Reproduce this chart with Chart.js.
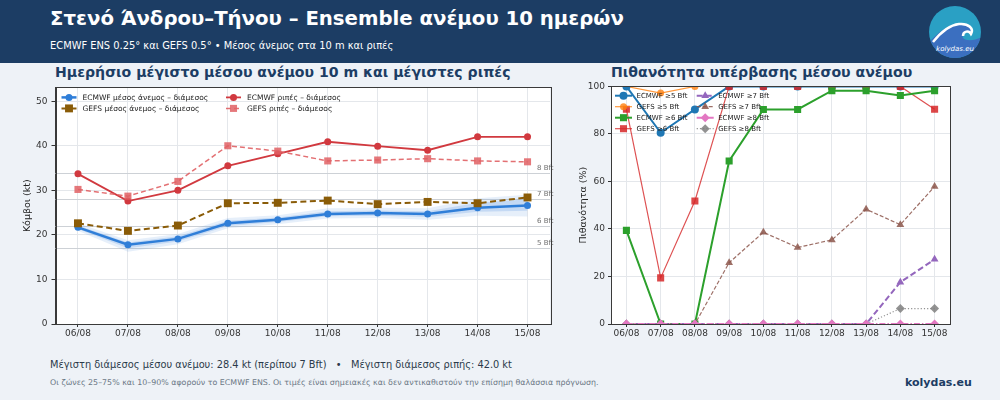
<!DOCTYPE html>
<html><head><meta charset="utf-8">
<script src="https://cdn.jsdelivr.net/npm/chart.js@4.4.1/dist/chart.umd.min.js"></script>
<style>
html,body{margin:0;padding:0;}
body{width:1000px;height:400px;background:#eef2f7;position:relative;overflow:hidden;font-family:"DejaVu Sans",sans-serif;}
#hdr{position:absolute;left:0;top:0;width:1000px;height:63px;background:#1c3d64;}
#t1{position:absolute;left:50px;top:7px;color:#fff;font-weight:bold;font-size:19.7px;white-space:nowrap;}
#t2{position:absolute;left:50px;top:40px;color:#fff;font-size:9.9px;white-space:nowrap;}
#logo{position:absolute;left:927px;top:4px;}
.sec{position:absolute;top:64px;color:#1c3d64;font-weight:bold;font-size:14.1px;white-space:nowrap;}
#c1w{position:absolute;left:0;top:78px;width:575px;height:270px;}
#c2w{position:absolute;left:560px;top:78px;width:415px;height:270px;}
#f1{position:absolute;left:50px;top:359px;font-size:9.8px;color:#2b3a4a;white-space:nowrap;}
#f2{position:absolute;left:50px;top:378px;font-size:7.9px;color:#6b7785;white-space:nowrap;}
#f3{position:absolute;left:905px;top:376px;font-size:11px;font-weight:bold;color:#1c3d64;}
</style></head>
<body>
<div id="hdr"></div>
<div id="t1">Στενό Άνδρου–Τήνου – Ensemble ανέμου 10 ημερών</div>
<div id="t2">ECMWF ENS 0.25° και GEFS 0.5° • Μέσος άνεμος στα 10 m και ριπές</div>
<svg id="logo" width="56" height="56" viewBox="0 0 56 56">
  <defs><clipPath id="cc"><circle cx="28" cy="28" r="26"/></clipPath></defs>
  <circle cx="28" cy="28" r="26" fill="#2aa0c4"/>
  <g clip-path="url(#cc)">
    <path d="M0 40 C10 30 18 22 30 20 C40 18 46 24 44 30 C40 26 34 28 36 34 C40 38 50 36 56 32 L56 56 L0 56Z" fill="#3b6fc0"/>
    <path d="M6 38 C14 28 22 21 32 20 C42 19 47 25 44 30 C42 26 36 27 36 32" fill="none" stroke="#fff" stroke-width="2.5"/>
  </g>
  <text x="28" y="47" fill="#fff" font-size="7" font-style="italic" text-anchor="middle" font-family="DejaVu Sans">kolydas.eu</text>
</svg>
<div class="sec" style="left:55px;">Ημερήσιο μέγιστο μέσου ανέμου 10 m και μέγιστες ριπές</div>
<div class="sec" style="left:611px;">Πιθανότητα υπέρβασης μέσου ανέμου</div>
<div id="c1w"><canvas id="c1"></canvas></div>
<div id="c2w"><canvas id="c2"></canvas></div>
<div id="f1">Μέγιστη διάμεσος μέσου ανέμου: 28.4 kt (περίπου 7 Bft) &nbsp;&nbsp;•&nbsp;&nbsp; Μέγιστη διάμεσος ριπής: 42.0 kt</div>
<div id="f2">Οι ζώνες 25–75% και 10–90% αφορούν το ECMWF ENS. Οι τιμές είναι σημειακές και δεν αντικαθιστούν την επίσημη θαλάσσια πρόγνωση.</div>
<div id="f3">kolydas.eu</div>
<script>
// ---------- DATA ----------
const dates = ['06/08','07/08','08/08','09/08','10/08','11/08','12/08','13/08','14/08','15/08'];
const ecMean = [21.7,17.8,19.1,22.6,23.4,24.7,24.9,24.7,26.1,26.6];
const gfMean = [22.6,20.9,22.1,27.1,27.2,27.7,26.9,27.4,27.1,28.4];
const ecGust = [33.7,27.6,30.0,35.5,38.2,40.9,39.9,39.0,42.0,42.0];
const gfGust = [30.2,28.7,32.0,40.0,38.8,36.6,36.8,37.1,36.6,36.4];
const ecP10 = [20.9,16.2,17.9,21.5,22.4,23.7,23.8,23.4,24.3,24.1];
const ecP25 = [21.3,17.0,18.5,22.0,22.9,24.2,24.3,24.0,25.2,25.4];
const ecP75 = [22.1,18.3,19.7,23.2,23.9,25.3,25.5,25.3,27.2,28.0];
const ecP90 = [22.6,18.8,20.2,23.8,24.4,26.0,26.1,26.0,28.2,29.0];
const bftKnots = [17,22,28,34];
const bftLabels = ['5 Bft','6 Bft','7 Bft','8 Bft'];
const probTicks = [0,20,40,60,80,100];
const ec5 = [100,80.5,90.3,100,100,100,100,100,100,100];
const gf5 = [100,97.2,100,100,100,100,100,100,100,100];
const ec6 = [39.4,0,0,68.6,90.3,90.3,98.2,98.2,96.2,98.2];
const gf6 = [90.4,19.4,51.8,100,100,100,100,100,100,90.4];
const ec7 = [0,0,0,0,0,0,0,0,17.6,27.2];
const gf7 = [0,0,0,25.8,38.6,32.2,35.4,48.3,41.8,57.9];
const ec8 = [0,0,0,0,0,0,0,0,0,0];
const gf8 = [0,0,0,0,0,0,0,0,6.5,6.5];

// ---------- helpers ----------
const FONT = '"DejaVu Sans", sans-serif';
const pts = arr => arr.map((v,i)=>({x:i,y:v}));

function drawMarker(ctx, style, x, y, r, fill, stroke, bw){
  ctx.save(); ctx.beginPath();
  if(style==='circle'){ ctx.arc(x,y,r,0,Math.PI*2); }
  else if(style==='rect'){ const s=r*Math.SQRT1_2; ctx.rect(x-s,y-s,2*s,2*s); }
  else if(style==='triangle'){ ctx.moveTo(x,y-r); ctx.lineTo(x+0.866*r,y+0.5*r); ctx.lineTo(x-0.866*r,y+0.5*r); ctx.closePath(); }
  else if(style==='rectRot'){ ctx.moveTo(x,y-r); ctx.lineTo(x+r,y); ctx.lineTo(x,y+r); ctx.lineTo(x-r,y); ctx.closePath(); }
  ctx.fillStyle=fill; ctx.fill();
  if(bw){ ctx.lineWidth=bw; ctx.strokeStyle=stroke; ctx.stroke(); }
  ctx.restore();
}

const framePlugin = {
  id:'frame',
  beforeDraw(chart){
    const a=chart.chartArea, ctx=chart.ctx;
    ctx.save(); ctx.fillStyle='#ffffff'; ctx.fillRect(a.left,a.top,a.right-a.left,a.bottom-a.top); ctx.restore();
  },
  afterDraw(chart){
    const a=chart.chartArea, ctx=chart.ctx;
    ctx.save(); ctx.strokeStyle='#3a3a3a'; ctx.lineWidth=1;
    ctx.strokeRect(Math.round(a.left)+0.5,Math.round(a.top)+0.5,Math.round(a.right-a.left),Math.round(a.bottom-a.top));
    ctx.restore();
    const L = chart.options.plugins.inlegend;
    if(!L) return;
    const items = chart.data.datasets.filter(d=>d.inLegend);
    ctx.save();
    ctx.font = L.fontSize+'px '+FONT; ctx.textBaseline='middle'; ctx.textAlign='left';
    items.forEach((d,i)=>{
      const col = Math.floor(i/L.rows), row = i%L.rows;
      const x0 = a.left + L.x + col*L.colW, y = a.top + L.y + row*L.rowH;
      ctx.save();
      ctx.strokeStyle=d.borderColor; ctx.lineWidth=d.borderWidth; ctx.setLineDash(d.borderDash||[]);
      ctx.beginPath(); ctx.moveTo(x0,y); ctx.lineTo(x0+L.lineW,y); ctx.stroke();
      ctx.restore();
      drawMarker(ctx, d.pointStyle, x0+L.lineW/2, y, d.pointRadius, d.pointBackgroundColor, d.pointBorderColor, d.pointBorderWidth);
      ctx.fillStyle='#222';
      ctx.fillText(d.label, x0+L.lineW+L.gap, y+0.5);
    });
    ctx.restore();
  }
};

const bftPlugin = {
  id:'bft',
  beforeDatasetsDraw(chart){
    const a=chart.chartArea, ctx=chart.ctx, ys=chart.scales.y;
    ctx.save();
    bftKnots.forEach((k,i)=>{
      const py = Math.round(ys.getPixelForValue(k))+0.5;
      ctx.strokeStyle='#cdd1d6'; ctx.lineWidth=1;
      ctx.beginPath(); ctx.moveTo(a.left,py); ctx.lineTo(a.right,py); ctx.stroke();
      ctx.fillStyle='#707070'; ctx.font='7px '+FONT; ctx.textAlign='left'; ctx.textBaseline='bottom';
      ctx.fillText(bftLabels[i], a.right-13, py-1.5);
    });
    ctx.restore();
  }
};

function xScale(){
  return {
    type:'linear', min:-0.45, max:9.45,
    afterFit(s){ s.height=24; },
    ticks:{ stepSize:1, includeBounds:false, autoSkip:false, maxRotation:0, padding:1, color:'#333', font:{family:FONT,size:9},
      callback:v=>dates[v] },
    grid:{ color:'#e4e7eb', tickColor:'#333', tickLength:3, drawTicks:true },
    border:{ display:true, color:'#3a3a3a' }
  };
}

Chart.defaults.font.family = FONT;
Chart.defaults.animation = false;

function line(label, data, color, width, dash, style, r, fill, order, extra){
  return Object.assign({
    label, data:pts(data), borderColor:color, borderWidth:width, borderDash:dash,
    pointStyle:style, pointRadius:r, pointHoverRadius:r, pointBackgroundColor:fill||color, pointBorderColor:fill||color, pointBorderWidth:0,
    fill:false, tension:0, clip:false, order, inLegend:true
  }, extra||{});
}
function band(data, color, fillTarget, order){
  return { data:pts(data), borderWidth:0, pointRadius:0, pointHoverRadius:0, borderColor:'rgba(0,0,0,0)',
    backgroundColor:color, fill:fillTarget, tension:0, order, inLegend:false };
}

// ---------- left chart ----------
new Chart(document.getElementById('c1'), {
  type:'line',
  data:{ datasets:[
    band(ecP10,'rgba(0,0,0,0)',false,200),
    band(ecP90,'rgba(58,132,220,0.13)','-1',199),
    band(ecP25,'rgba(0,0,0,0)',false,198),
    band(ecP75,'rgba(58,132,220,0.20)','-1',197),
    line('ECMWF μέσος άνεμος – διάμεσος', ecMean, '#2f7ed8', 2.5, [], 'circle', 3.5, '#2f7ed8', 10),
    line('GEFS μέσος άνεμος – διάμεσος', gfMean, '#8a5c08', 2, [6,3.5], 'rect', 5.6, '#8a5c08', 9),
    line('ECMWF ριπές – διάμεσος', ecGust, '#d1393f', 1.8, [], 'circle', 3.5, '#d1393f', 8),
    line('GEFS ριπές – διάμεσος', gfGust, 'rgba(224,96,100,0.9)', 1.5, [5,3], 'rect', 5, 'rgba(224,96,100,0.85)', 7)
  ]},
  options:{
    responsive:true, maintainAspectRatio:false,
    layout:{ padding:{ left:18, right:25, top:6, bottom:0 } },
    plugins:{ legend:{display:false}, tooltip:{enabled:false},
      inlegend:{ x:6, y:10, rows:2, colW:164.5, rowH:11, lineW:15, gap:6, fontSize:7.5 } },
    scales:{
      x: xScale(),
      y:{ type:'linear', min:0, max:53.1,
        afterFit(s){ s.width=37.5; },
        ticks:{ stepSize:10, includeBounds:false, padding:4, color:'#333', font:{family:FONT,size:9} },
        grid:{ color:'#e4e7eb', tickColor:'#333', tickLength:4 },
        border:{ display:true, color:'#3a3a3a' },
        title:{ display:true, text:'Κόμβοι (kt)', color:'#222', font:{family:FONT,size:9.5}, padding:{top:4,bottom:0} }
      }
    }
  },
  plugins:[framePlugin,bftPlugin]
});

// ---------- right chart ----------
const probSeries = [
  ['ECMWF ≥5 Bft', ec5, '#1f77b4', 2, [], 'circle', 4, '#1f77b4'],
  ['GEFS ≥5 Bft', gf5, 'rgba(255,127,14,0.8)', 1.2, [], 'circle', 3.5, 'rgba(255,127,14,0.8)'],
  ['ECMWF ≥6 Bft', ec6, '#2ca02c', 2, [], 'rect', 5, '#2ca02c'],
  ['GEFS ≥6 Bft', gf6, 'rgba(214,39,40,0.8)', 1.2, [], 'rect', 5, 'rgba(214,39,40,0.85)'],
  ['ECMWF ≥7 Bft', ec7, '#9467bd', 2, [6,3], 'triangle', 4.5, '#9467bd'],
  ['GEFS ≥7 Bft', gf7, 'rgba(140,86,75,0.85)', 1.2, [4,2], 'triangle', 4.5, 'rgba(140,86,75,0.85)'],
  ['ECMWF ≥8 Bft', ec8, '#e377c2', 2, [6,2,1.5,2], 'rectRot', 4.5, '#e377c2'],
  ['GEFS ≥8 Bft', gf8, 'rgba(127,127,127,0.85)', 1.2, [1.2,2], 'rectRot', 4.5, 'rgba(127,127,127,0.85)']
];

new Chart(document.getElementById('c2'), {
  type:'line',
  data:{ datasets: probSeries.map((s,i)=>{
    const p = Math.floor(i/2)*2 + (i%2===0 ? 1 : 0);
    return line(s[0], s[1], s[2], s[3], s[4], s[5], s[6], s[7], 50-p, {clip:0});
  }) },
  options:{
    responsive:true, maintainAspectRatio:false,
    layout:{ padding:{ left:14, right:25, top:6, bottom:0 } },
    plugins:{ legend:{display:false}, tooltip:{enabled:false},
      inlegend:{ x:4, y:9.3, rows:4, colW:81.7, rowH:11, lineW:17, gap:4.5, fontSize:7 } },
    scales:{
      x: xScale(),
      y:{ type:'linear', min:0, max:100,
        afterFit(s){ s.width=37; },
        afterBuildTicks(s){ s.ticks = probTicks.map(v=>({value:v})); },
        ticks:{ padding:3, color:'#333', font:{family:FONT,size:9} },
        grid:{ color:'#e4e7eb', tickColor:'#333', tickLength:3 },
        border:{ display:true, color:'#3a3a3a' },
        title:{ display:true, text:'Πιθανότητα (%)', color:'#222', font:{family:FONT,size:9.5}, padding:{top:4,bottom:0} }
      }
    }
  },
  plugins:[framePlugin]
});
</script>
</body></html>
